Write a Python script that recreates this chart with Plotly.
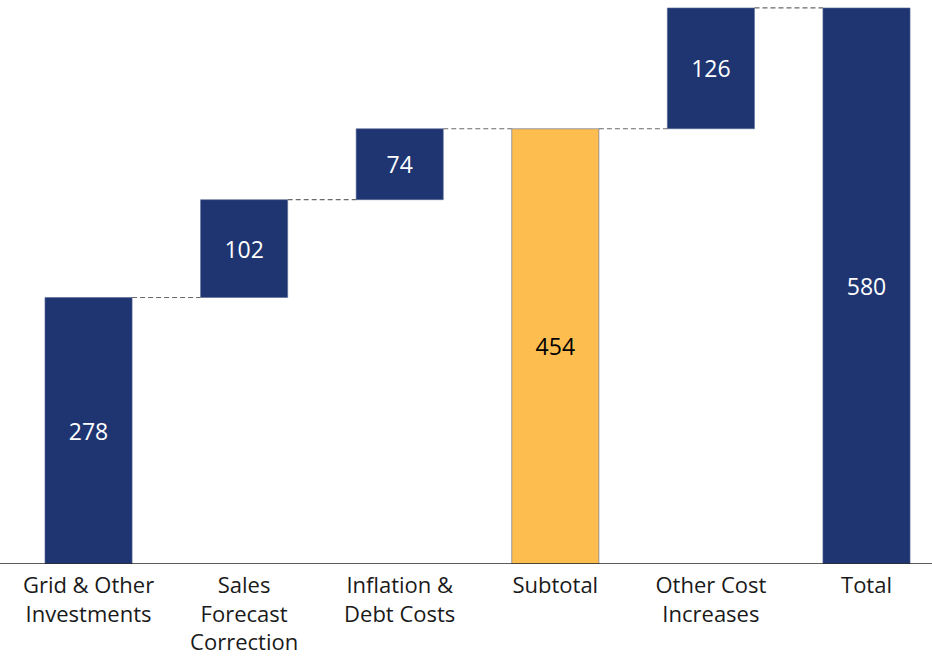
import plotly.graph_objects as go

categories = ["Grid & Other<br>Investments", "Sales<br>Forecast<br>Correction", "Inflation &<br>Debt Costs",
              "Subtotal", "Other Cost<br>Increases", "Total"]
values = [278, 102, 74, 454, 126, 580]
measures = ["relative", "relative", "relative", "total", "relative", "total"]

NAVY = "#1F3572"
YELLOW = "#FDBE4F"
colors = [NAVY, NAVY, NAVY, YELLOW, NAVY, NAVY]
text_colors = ["white", "white", "white", "black", "white", "white"]

# compute bases from the waterfall logic
bases, tops = [], []
running = 0
for v, m in zip(values, measures):
    if m == "total":
        bases.append(0)
        running = v
    else:
        bases.append(running)
        running += v
    tops.append(running)

W = 0.56
xs = list(range(len(categories)))

fig = go.Figure()
fig.add_trace(go.Bar(
    x=xs, y=values, base=bases, width=W,
    marker=dict(color=colors, line=dict(color="#5A6A96", width=0.6)),
    text=[str(v) for v in values], textposition="inside", insidetextanchor="middle",
    textfont=dict(color=text_colors, size=23, family="Open Sans"),
    textangle=0, showlegend=False, hoverinfo="skip",
))

# connectors
for i in range(len(values) - 1):
    lvl = tops[i]
    fig.add_trace(go.Scatter(
        x=[i + W / 2, i + 1 - W / 2], y=[lvl, lvl], mode="lines",
        line=dict(color="#6A6A6A", width=1.2, dash="5px,3px"),
        showlegend=False, hoverinfo="skip",
    ))

fig.update_layout(
    width=932, height=660,
    margin=dict(l=0, r=0, t=0, b=96, autoexpand=False),
    plot_bgcolor="white", paper_bgcolor="white",
    font=dict(family="Open Sans", size=22, color="#1a1a1a"),
    uniformtext=dict(mode=False),
    xaxis=dict(range=[-0.569, 5.421], tickmode="array", tickvals=xs, ticktext=categories,
               showgrid=False, zeroline=False, showline=False, ticks="", ticklen=0,
               ticklabelstandoff=6, automargin=False,
               tickfont=dict(size=22, family="Open Sans", color="#1a1a1a")),
    yaxis=dict(range=[0, 588.3], visible=False, showgrid=False, zeroline=False, automargin=False),
    shapes=[dict(type="line", xref="paper", yref="y", x0=0, x1=1, y0=0, y1=0,
                 line=dict(color="#262626", width=1.5))],
)

fig.write_html("out.html")
